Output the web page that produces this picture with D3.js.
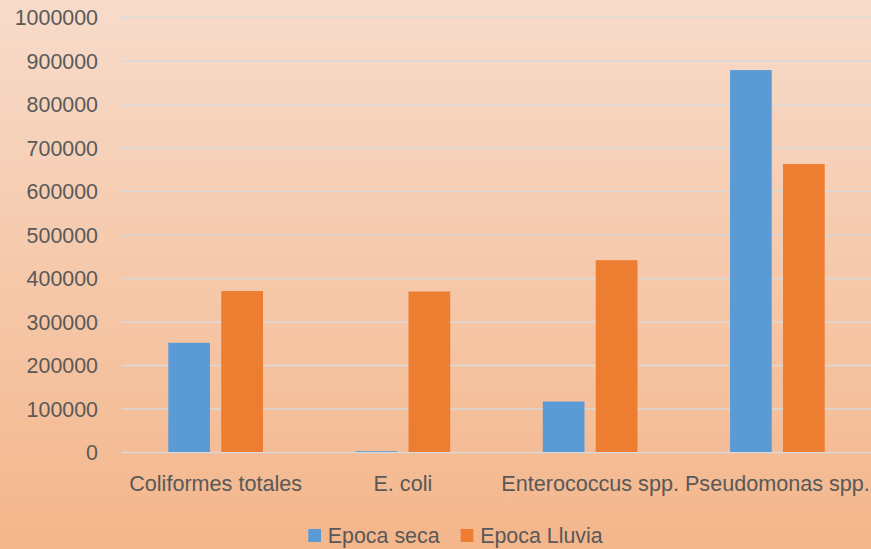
<!DOCTYPE html>
<html><head><meta charset="utf-8">
<script src="https://cdn.jsdelivr.net/npm/d3@7"></script>
<style>html,body{margin:0;padding:0;overflow:hidden}</style>
</head><body>
<svg id="c" width="871" height="549"></svg>
<script>
const categories = ["Coliformes totales", "E. coli", "Enterococcus spp.", "Pseudomonas spp."];
const seriesNames = ["Epoca seca", "Epoca Lluvia"];
const epocaSeca = [251000, 2000, 116000, 878000];
const epocaLluvia = [370000, 369000, 441000, 662000];
const yTicks = [0,100000,200000,300000,400000,500000,600000,700000,800000,900000,1000000];
const colors = ["#5B9BD5", "#ED7D31"];

const W = 871, H = 549;
const svg = d3.select("#c");
const defs = svg.append("defs");
const g = defs.append("linearGradient").attr("id","bg").attr("x1",0).attr("y1",0).attr("x2",0).attr("y2",1);
g.append("stop").attr("offset","0%").attr("stop-color","#F7DBCA");
g.append("stop").attr("offset","100%").attr("stop-color","#F4B68B");
svg.append("rect").attr("width",W).attr("height",H).attr("fill","url(#bg)");

const m = {left:122, right:0};
const x = d3.scaleBand().domain(categories).range([m.left, W - m.right]).paddingInner(0).paddingOuter(0);
const bw = x.bandwidth();
const x1 = d3.scaleBand().domain(seriesNames).range([bw*0.2472, bw*0.7528]).paddingInner(0.213).paddingOuter(0);
const y = d3.scaleLinear().domain([0, 1000000]).range([452, 17]);
const font = "'Liberation Sans', Arial, sans-serif";

// grid
const yAxis = d3.axisLeft(y).tickValues(yTicks).tickSize(-(W - m.left - m.right)).tickFormat(d3.format("d")).tickPadding(24);
const ga = svg.append("g").attr("transform",`translate(${m.left},0)`).call(yAxis);
ga.select(".domain").remove();
ga.selectAll(".tick line").attr("stroke","#D9D9D9").attr("stroke-width",1.5);
ga.selectAll(".tick text").attr("fill","#595959").attr("font-family",font).attr("font-size","21.4px").attr("dy","0.35em");

// bars
const data = categories.map((c,i)=>({c, vals:[epocaSeca[i], epocaLluvia[i]]}));
const groups = svg.append("g").selectAll("g").data(data).join("g")
  .attr("transform", d=>`translate(${x(d.c)},0)`);
groups.selectAll("rect").data(d=>d.vals.map((v,j)=>({s:seriesNames[j], v, j})))
  .join("rect")
  .attr("x", d=>x1(d.s)).attr("width", x1.bandwidth())
  .attr("y", d=>y(d.v)).attr("height", d=>y(0)-y(d.v))
  .attr("fill", d=>colors[d.j]);

// x axis labels
const xAxis = d3.axisBottom(x).tickSize(0).tickPadding(0);
const gx = svg.append("g").attr("transform","translate(0,491)").call(xAxis);
gx.select(".domain").remove();
gx.selectAll(".tick text").attr("fill","#595959").attr("font-family",font).attr("font-size","21.6px").attr("dy","0");

// legend
const legX = [308.3, 460.7];
const leg = svg.append("g").selectAll("g").data(seriesNames).join("g")
  .attr("transform",(d,i)=>`translate(${legX[i]},529)`);
leg.append("rect").attr("width",12.7).attr("height",13).attr("fill",(d,i)=>colors[i]);
leg.append("text").attr("x",19.5).attr("y",14).text(d=>d)
  .attr("fill","#595959").attr("font-family",font).attr("font-size","21.4px");
</script>
</body></html>
